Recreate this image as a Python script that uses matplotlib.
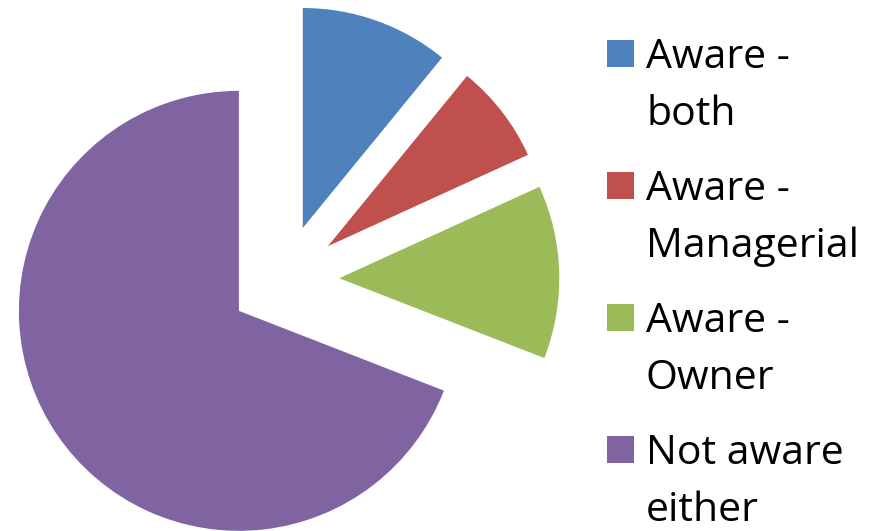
import matplotlib.pyplot as plt
from matplotlib.patches import Rectangle

# Respuestas de la encuesta (numero de personas)
categorias = ["Aware - both", "Aware - Managerial", "Aware - Owner", "Not aware either"]
etiquetas = [["Aware -", "both"], ["Aware -", "Managerial"], ["Aware -", "Owner"], ["Not aware", "either"]]
valores = [6, 4, 7, 38]
colores = ["#4F81BD", "#C0504D", "#9BBB59", "#8064A2"]

W, H = 883, 531
fig = plt.figure(figsize=(W / 100, H / 100), dpi=100)
ax = fig.add_axes([0, 0, 1, 1])

# Pastel con todas las porciones separadas
ax.pie(valores, colors=colores, startangle=90, counterclock=False,
       explode=[0.25] * len(valores), radius=1.0,
       wedgeprops=dict(linewidth=0))

# escala: 220 px por unidad, centro en (284, 280) px
r_px = 220.0
cx, cy = 284.3, 279.8
ax.set_aspect("auto")
ax.set_xlim(-cx / r_px, (W - cx) / r_px)
ax.set_ylim(-(H - cy) / r_px, cy / r_px)
ax.axis("off")


def fx(px):
    return px / W


def fy(py):
    return 1 - py / H


# Leyenda dibujada a mano
for i, (lineas, color) in enumerate(zip(etiquetas, colores)):
    top = 40 + 132 * i
    fig.patches.append(Rectangle((fx(607), fy(top + 27)), 27 / W, 27 / H,
                                 transform=fig.transFigure, facecolor=color,
                                 edgecolor="none"))
    for j, linea in enumerate(lineas):
        fig.text(fx(646), fy(top + 28 + 57 * j), linea, fontsize=29.5,
                 family="Open Sans", va="baseline", ha="left", color="black")

fig.savefig("out.png", dpi=100)
